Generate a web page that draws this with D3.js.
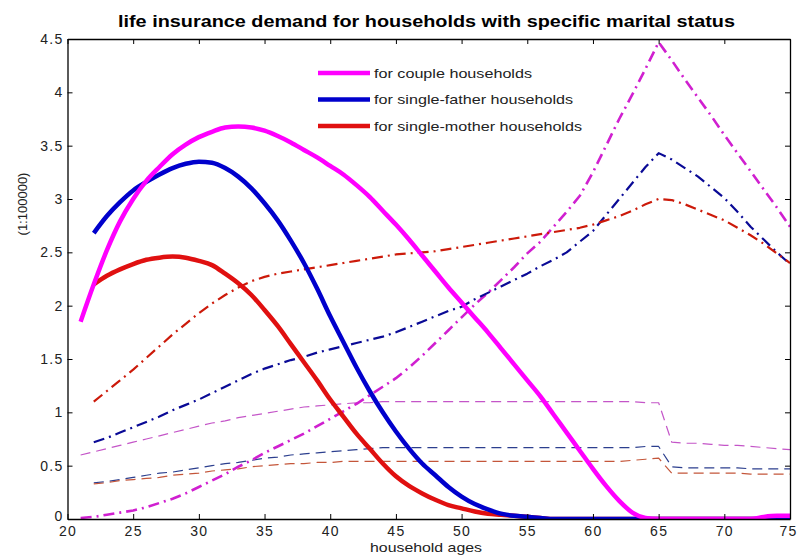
<!DOCTYPE html>
<html>
<head>
<meta charset="utf-8">
<script src="https://cdn.jsdelivr.net/npm/d3@7"></script>
<style>
  body { margin: 0; background: #fff; }
  text { font-family: Arial, "Liberation Sans", sans-serif; }
</style>
</head>
<body>
<div id="vis"></div>
<script>
// ages (x values)
var agesFrom21 = d3.range(21, 76);
var agesFrom22 = d3.range(22, 76);

// thick solid lines
var coupleSolid = [1.85, 2.2, 2.52, 2.79, 3.0, 3.17, 3.3, 3.42, 3.51, 3.58, 3.63, 3.67, 3.68, 3.67, 3.64,
  3.59, 3.53, 3.46, 3.39, 3.31, 3.23, 3.13, 3.02, 2.89, 2.76, 2.62, 2.47, 2.32, 2.17, 2.03,
  1.89, 1.75, 1.6, 1.45, 1.3, 1.15, 0.98, 0.81, 0.64, 0.47, 0.31, 0.17, 0.06, 0.01, 0.0,
  0.0, 0.0, 0.0, 0.0, 0.0, 0.0, 0.0, 0.02, 0.03, 0.03];
var fatherSolid = [2.68, 2.84, 2.97, 3.08, 3.16, 3.23, 3.29, 3.33, 3.35, 3.34, 3.29, 3.21, 3.1, 2.96,
  2.8, 2.61, 2.4, 2.16, 1.9, 1.66, 1.42, 1.2, 1.0, 0.82, 0.66, 0.52, 0.41, 0.3, 0.21,
  0.14, 0.09, 0.05, 0.03, 0.02, 0.01, 0, 0, 0, 0, 0, 0, 0, 0, 0, 0, 0, 0, 0, 0, 0, 0, 0, 0, 0];
var motherSolid = [2.2, 2.28, 2.34, 2.39, 2.43, 2.45, 2.46, 2.45, 2.42, 2.38, 2.3, 2.21, 2.1, 1.96,
  1.81, 1.64, 1.47, 1.3, 1.12, 0.96, 0.8, 0.66, 0.52, 0.4, 0.31, 0.24, 0.18, 0.13, 0.1,
  0.07, 0.05, 0.04, 0.03, 0.02, 0.01, 0, 0, 0, 0, 0, 0, 0, 0, 0, 0, 0, 0, 0, 0, 0, 0, 0, 0, 0];

// dash-dot lines
var coupleDashDot = [0.01, 0.02, 0.04, 0.06, 0.08, 0.11, 0.15, 0.19, 0.24, 0.3, 0.36, 0.42, 0.49, 0.55,
  0.62, 0.68, 0.74, 0.8, 0.87, 0.94, 1.01, 1.08, 1.16, 1.24, 1.32, 1.42, 1.53, 1.65, 1.77,
  1.89, 2.01, 2.12, 2.24, 2.36, 2.49, 2.6, 2.74, 2.88, 3.03, 3.25, 3.5, 3.75, 3.98, 4.22,
  4.47, 4.3, 4.12, 3.95, 3.78, 3.6, 3.43, 3.26, 3.09, 2.92, 2.74];
var fatherDashDot = [0.72, 0.76, 0.81, 0.86, 0.91, 0.96, 1.02, 1.07, 1.12, 1.18, 1.24, 1.3, 1.36, 1.41,
  1.45, 1.49, 1.52, 1.56, 1.59, 1.62, 1.65, 1.68, 1.71, 1.75, 1.8, 1.85, 1.9, 1.95, 1.99,
  2.06, 2.12, 2.18, 2.24, 2.3, 2.37, 2.43, 2.5, 2.6, 2.7, 2.85, 3.0, 3.15, 3.3, 3.43,
  3.37, 3.29, 3.21, 3.11, 3.01, 2.88, 2.74, 2.62, 2.5, 2.39];
var motherDashDot = [1.1, 1.2, 1.3, 1.4, 1.51, 1.62, 1.73, 1.83, 1.93, 2.02, 2.1, 2.17, 2.23, 2.27,
  2.3, 2.32, 2.34, 2.36, 2.38, 2.4, 2.42, 2.44, 2.46, 2.48, 2.49, 2.5, 2.51, 2.53, 2.55,
  2.57, 2.59, 2.61, 2.63, 2.65, 2.67, 2.69, 2.71, 2.73, 2.76, 2.8, 2.84, 2.89, 2.95, 3.0,
  2.99, 2.95, 2.9, 2.85, 2.8, 2.73, 2.66, 2.58, 2.49, 2.4];

// thin dashed lines
var coupleDashed = [0.6, 0.63, 0.66, 0.69, 0.72, 0.75, 0.78, 0.81, 0.84, 0.87, 0.9, 0.92, 0.95, 0.97,
  0.99, 1.01, 1.03, 1.05, 1.06, 1.07, 1.08, 1.09, 1.09, 1.1, 1.1, 1.1, 1.1, 1.1, 1.1,
  1.1, 1.1, 1.1, 1.1, 1.1, 1.1, 1.1, 1.1, 1.1, 1.1, 1.1, 1.1, 1.1, 1.1, 1.09, 1.09,
  0.72, 0.71, 0.71, 0.7, 0.69, 0.69, 0.68, 0.67, 0.66, 0.65];
var fatherDashed = [0.34, 0.35, 0.37, 0.39, 0.41, 0.43, 0.44, 0.46, 0.48, 0.5, 0.52, 0.53, 0.55, 0.57,
  0.58, 0.6, 0.61, 0.62, 0.63, 0.64, 0.65, 0.66, 0.67, 0.67, 0.67, 0.67, 0.67, 0.67, 0.67,
  0.67, 0.67, 0.67, 0.67, 0.67, 0.67, 0.67, 0.67, 0.67, 0.67, 0.67, 0.67, 0.67, 0.68, 0.68,
  0.49, 0.48, 0.48, 0.48, 0.48, 0.48, 0.47, 0.47, 0.47, 0.47];
var motherDashed = [0.33, 0.34, 0.36, 0.37, 0.38, 0.39, 0.41, 0.42, 0.43, 0.45, 0.46, 0.47, 0.49, 0.5,
  0.51, 0.52, 0.52, 0.53, 0.53, 0.54, 0.54, 0.54, 0.54, 0.54, 0.54, 0.54, 0.54, 0.54, 0.54,
  0.54, 0.54, 0.54, 0.54, 0.54, 0.54, 0.54, 0.54, 0.54, 0.54, 0.54, 0.54, 0.55, 0.56, 0.57,
  0.43, 0.43, 0.43, 0.43, 0.43, 0.43, 0.42, 0.42, 0.42, 0.42];

var xTicks = [20, 25, 30, 35, 40, 45, 50, 55, 60, 65, 70, 75];
var yTicks = [0, 0.5, 1, 1.5, 2, 2.5, 3, 3.5, 4, 4.5];
var legendLabels = ["for couple households", "for single-father households", "for single-mother households"];
var legendWidths = [158, 199, 208];

var series = [
  {ages: agesFrom21, vals: coupleDashed,  color: "#c455c8", width: 1.2, dash: "10,6", smooth: false},
  {ages: agesFrom22, vals: fatherDashed,  color: "#2c3f8e", width: 1.2, dash: "10,6", smooth: false},
  {ages: agesFrom22, vals: motherDashed,  color: "#c4563a", width: 1.2, dash: "10,6", smooth: false},
  {ages: agesFrom21, vals: coupleDashDot, color: "#d020d0", width: 2.6, dash: "11,5,2,5", smooth: false},
  {ages: agesFrom22, vals: fatherDashDot, color: "#0a0a96", width: 2.2, dash: "11,5,2,5", smooth: false},
  {ages: agesFrom22, vals: motherDashDot, color: "#cc1a0a", width: 2.2, dash: "11,5,2,5", smooth: false},
  {ages: agesFrom22, vals: motherSolid,   color: "#e01010", width: 4.5, dash: null, smooth: true},
  {ages: agesFrom22, vals: fatherSolid,   color: "#0000cc", width: 4.5, dash: null, smooth: true},
  {ages: agesFrom21, vals: coupleSolid,   color: "#ff00ff", width: 4.5, dash: null, smooth: true}
];
var legendColors = ["#ff00ff", "#0000cc", "#e01010"];

var margin = {top: 39, right: 8, bottom: 39, left: 67.5},
    width = 798 - margin.left - margin.right,
    height = 558 - margin.top - margin.bottom;

var x = d3.scaleLinear().domain([20, 75]).range([0, width]);
var y = d3.scaleLinear().domain([0, 4.5]).range([height, 0]);

var svg = d3.select("#vis").append("svg")
    .attr("width", 798)
    .attr("height", 558)
  .append("g")
    .attr("transform", "translate(" + margin.left + "," + margin.top + ")");

svg.append("defs").append("clipPath").attr("id", "clip")
  .append("rect").attr("width", width).attr("height", height);

var line = d3.line()
    .x(function(d) { return x(d[0]); })
    .y(function(d) { return y(d[1]); });
var smoothLine = d3.line()
    .x(function(d) { return x(d[0]); })
    .y(function(d) { return y(d[1]); })
    .curve(d3.curveMonotoneX);

svg.append("g").attr("clip-path", "url(#clip)")
  .selectAll("path")
  .data(series).enter()
  .append("path")
    .attr("d", function(s) {
        var pts = s.ages.map(function(a, i) { return [a, s.vals[i]]; });
        return s.smooth ? smoothLine(pts) : line(pts); })
    .attr("fill", "none")
    .attr("stroke", function(s) { return s.color; })
    .attr("stroke-width", function(s) { return s.width; })
    .attr("stroke-dasharray", function(s) { return s.dash; })
    .attr("stroke-linejoin", "round");

// axes, ticks inside, box like matlab
var xAxis = d3.axisBottom(x).tickValues(xTicks).tickSizeInner(-5).tickSizeOuter(0).tickPadding(7);
var yAxis = d3.axisLeft(y).tickValues(yTicks).tickSizeInner(-5).tickSizeOuter(0).tickPadding(4)
    .tickFormat(function(d) { return d; });

var gx = svg.append("g").attr("transform", "translate(0," + height + ")").call(xAxis);
var gy = svg.append("g").call(yAxis);
svg.append("g").call(d3.axisTop(x).tickValues(xTicks).tickSizeInner(-5).tickSizeOuter(0).tickFormat(""));
svg.append("g").attr("transform", "translate(" + width + ",0)")
  .call(d3.axisRight(y).tickValues(yTicks).tickSizeInner(-5).tickSizeOuter(0).tickFormat(""));

svg.selectAll(".domain").attr("stroke", "#000").attr("stroke-width", 1.3);
svg.selectAll(".tick line").attr("stroke", "#000");
svg.selectAll(".tick text").style("font-size", "14px").attr("fill", "#222")
  .style("letter-spacing", "1.3px")
  .style("font-family", "Arial, 'Liberation Sans', sans-serif");
// last x label sits right at the edge, keep it inside
gx.selectAll(".tick text").filter(function(d) { return d === 75; }).attr("dx", "-2");
// zero label sits a bit higher so it clears the "20"
gy.selectAll(".tick text").filter(function(d) { return d === 0; }).attr("dy", "0.1em");

// title and labels
svg.append("text")
    .attr("x", 426.5 - margin.left)
    .attr("y", -12)
    .attr("text-anchor", "middle")
    .attr("textLength", 617)
    .attr("lengthAdjust", "spacingAndGlyphs")
    .style("font-size", "16.5px")
    .style("font-weight", "bold")
    .text("life insurance demand for households with specific marital status");

svg.append("text")
    .attr("x", 426 - margin.left)
    .attr("y", height + 33)
    .attr("text-anchor", "middle")
    .attr("textLength", 112)
    .attr("lengthAdjust", "spacingAndGlyphs")
    .style("font-size", "13.5px")
    .attr("fill", "#222")
    .text("household ages");

svg.append("text")
    .attr("transform", "rotate(-90)")
    .attr("x", -165)
    .attr("y", -41)
    .attr("text-anchor", "middle")
    .style("font-size", "13px")
    .attr("fill", "#222")
    .text("(1:100000)");

// legend
var legend = svg.selectAll(".legend")
    .data(legendLabels).enter()
    .append("g")
    .attr("class", "legend")
    .attr("transform", function(d, i) { return "translate(" + (318 - margin.left) + "," + (73 - margin.top + 26.5 * i) + ")"; });

legend.append("line")
    .attr("x1", 0).attr("x2", 52)
    .attr("stroke", function(d, i) { return legendColors[i]; })
    .attr("stroke-width", 4.5);

legend.append("text")
    .attr("x", 56)
    .attr("dy", "0.35em")
    .attr("textLength", function(d, i) { return legendWidths[i]; })
    .attr("lengthAdjust", "spacingAndGlyphs")
    .style("font-size", "13.5px")
    .attr("fill", "#222")
    .text(function(d) { return d; });
</script>
</body>
</html>
